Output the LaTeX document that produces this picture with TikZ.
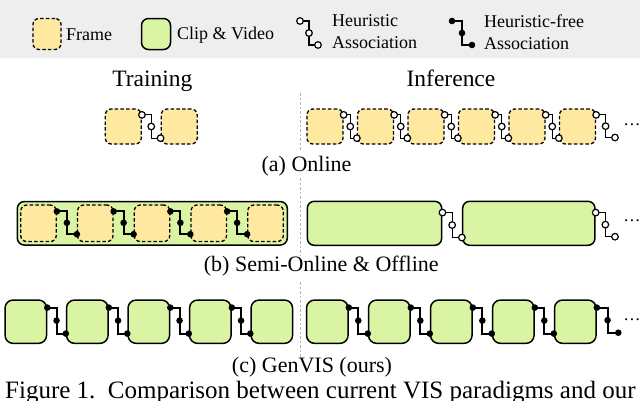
\documentclass[tikz,border=0pt]{standalone}
\usepackage{fontspec}
\setmainfont{Liberation Serif}
\usetikzlibrary{calc}

\definecolor{frameyellow}{HTML}{FFE8A0}
\definecolor{clipgreen}{HTML}{D9F5A3}
\definecolor{legendgray}{HTML}{EEEEEE}

% #1 link style (heur / free), #2 start point, #3 end point
\newcommand{\assoc}[3]{%
  \draw [#1] #2 coordinate (s) -| ($(s)!0.5!#3$) coordinate (m) |- #3 coordinate (e);
  \foreach \p in {s, m, e} \path [#1 dot] (\p) circle (3.3);
}

\begin{document}
\begin{tikzpicture}[x=1pt, y=-1pt,
    framebox/.style={draw, dash pattern=on 3.5pt off 2.2pt, line width=1.3pt, fill=frameyellow,
      rounded corners=6pt, inner sep=0pt, minimum width=36pt, minimum height=35pt},
    clipbox/.style={draw, line width=1.5pt, fill=clipgreen, rounded corners=7pt, inner sep=0pt,
      minimum width=41.5pt, minimum height=43.3pt},
    heur/.style={line width=1.1pt},
    heur dot/.style={draw, fill=white, line width=1.2pt},
    free/.style={line width=2pt},
    free dot/.style={fill=black},
    sep/.style={gray!60, line width=1pt, dash pattern=on 2.5pt off 2pt},
    legendtext/.style={anchor=west, inner sep=0pt, align=left, font=\fontsize{18}{22}\selectfont},
    head/.style={anchor=base, inner sep=0pt, font=\fontsize{23.5}{28}\selectfont},
    subcap/.style={anchor=base, inner sep=0pt, font=\fontsize{22}{26}\selectfont},
    more/.style={inner sep=0pt, font=\fontsize{17.5}{20}\selectfont}]

      \useasboundingbox (0,0) rectangle (640,400);

      % legend
      \fill [legendgray] (0,0) rectangle (640,58);
      \node [framebox, minimum width=28pt, minimum height=31pt] (lframe) at (47,34) {};
      \node [legendtext] (lframetext) at (66,35) {Frame};
      \node [clipbox, minimum width=29pt, minimum height=31pt] (lclip) at (156,34) {};
      \node [legendtext] (lcliptext) at (177,35) {Clip \& Video};
      \coordinate (lhs) at (300,21);
      \coordinate (lhe) at (318,45);
      \assoc{heur}{(lhs)}{(lhe)}
      \node [legendtext] (lheurtext) at (332,32) {Heuristic\\Association};
      \coordinate (lfs) at (452,21);
      \coordinate (lfe) at (472,45);
      \assoc{free}{(lfs)}{(lfe)}
      \node [legendtext] (lfreetext) at (484,32) {Heuristic-free\\Association};

      \node [head] (train) at (152.3,86) {Training};
      \node [head] (infer) at (451,86) {Inference};

      \draw [sep] (300,93) -- (300,150);
      \draw [sep] (300,178) -- (300,256);
      \draw [sep] (300,282) -- (300,357);

      % (a) online
      \node [framebox] (ta1) at (123.3,126.5) {};
      \node [framebox] (ta2) at (179.2,126.5) {};
      \assoc{heur}{([yshift=-6.5]ta1.north east)}{([yshift=6.5]ta2.south west)}

      \node [framebox] (ia1) at (325,126.5) {};
      \node [framebox] (ia2) at (375.5,126.5) {};
      \node [framebox] (ia3) at (426,126.5) {};
      \node [framebox] (ia4) at (476.5,126.5) {};
      \node [framebox] (ia5) at (527,126.5) {};
      \node [framebox] (ia6) at (577.5,126.5) {};
      \coordinate (iaend) at (615,137.5);
      \assoc{heur}{([yshift=-6.5]ia1.north east)}{([yshift=6.5]ia2.south west)}
      \assoc{heur}{([yshift=-6.5]ia2.north east)}{([yshift=6.5]ia3.south west)}
      \assoc{heur}{([yshift=-6.5]ia3.north east)}{([yshift=6.5]ia4.south west)}
      \assoc{heur}{([yshift=-6.5]ia4.north east)}{([yshift=6.5]ia5.south west)}
      \assoc{heur}{([yshift=-6.5]ia5.north east)}{([yshift=6.5]ia6.south west)}
      \assoc{heur}{([yshift=-6.5]ia6.north east)}{(iaend)}
      \node [more] (iamore) at (632,127) {···};

      \node [subcap] (capa) at (306.5,171) {(a) Online};

      % (b) semi-online & offline
      \node [clipbox, minimum width=270pt, minimum height=43.5pt] (tb) at (152.3,223.3) {};
      \node [framebox, minimum width=35.5pt, minimum height=36.5pt] (tb1) at (38.5,223.3) {};
      \node [framebox, minimum width=35.5pt, minimum height=36.5pt] (tb2) at (95.25,223.3) {};
      \node [framebox, minimum width=35.5pt, minimum height=36.5pt] (tb3) at (152,223.3) {};
      \node [framebox, minimum width=35.5pt, minimum height=36.5pt] (tb4) at (208.75,223.3) {};
      \node [framebox, minimum width=35.5pt, minimum height=36.5pt] (tb5) at (265.5,223.3) {};
      \assoc{free}{([yshift=-7]tb1.north east)}{([yshift=8]tb2.south west)}
      \assoc{free}{([yshift=-7]tb2.north east)}{([yshift=8]tb3.south west)}
      \assoc{free}{([yshift=-7]tb3.north east)}{([yshift=8]tb4.south west)}
      \assoc{free}{([yshift=-7]tb4.north east)}{([yshift=8]tb5.south west)}

      \node [clipbox, minimum width=134.4pt, minimum height=44pt] (ib1) at (374.5,223.3) {};
      \node [clipbox, minimum width=132.3pt, minimum height=44pt] (ib2) at (528.8,223.3) {};
      \coordinate (ibend) at (615,236.7);
      \assoc{heur}{([yshift=-12]ib1.north east)}{([yshift=8.5]ib2.south west)}
      \assoc{heur}{([yshift=-12]ib2.north east)}{(ibend)}
      \node [more] (ibmore) at (632,223) {···};

      \node [subcap] (capb) at (321.3,271.7) {(b) Semi-Online \& Offline};

      % (c) genvis
      \node [clipbox, rounded corners=8pt] (tc1) at (25.8,321.7) {};
      \node [clipbox, rounded corners=8pt] (tc2) at (87.3,321.7) {};
      \node [clipbox, rounded corners=8pt] (tc3) at (148.8,321.7) {};
      \node [clipbox, rounded corners=8pt] (tc4) at (210.3,321.7) {};
      \node [clipbox, rounded corners=8pt] (tc5) at (271.8,321.7) {};
      \assoc{free}{([yshift=-8.3]tc1.north east)}{([yshift=10.5]tc2.south west)}
      \assoc{free}{([yshift=-8.3]tc2.north east)}{([yshift=10.5]tc3.south west)}
      \assoc{free}{([yshift=-8.3]tc3.north east)}{([yshift=10.5]tc4.south west)}
      \assoc{free}{([yshift=-8.3]tc4.north east)}{([yshift=10.5]tc5.south west)}

      \node [clipbox, rounded corners=8pt] (ic1) at (327.3,321.7) {};
      \node [clipbox, rounded corners=8pt] (ic2) at (389.3,321.7) {};
      \node [clipbox, rounded corners=8pt] (ic3) at (451.3,321.7) {};
      \node [clipbox, rounded corners=8pt] (ic4) at (513.3,321.7) {};
      \node [clipbox, rounded corners=8pt] (ic5) at (575.3,321.7) {};
      \coordinate (icend) at (618.3,332.7);
      \assoc{free}{([yshift=-8.3]ic1.north east)}{([yshift=10.5]ic2.south west)}
      \assoc{free}{([yshift=-8.3]ic2.north east)}{([yshift=10.5]ic3.south west)}
      \assoc{free}{([yshift=-8.3]ic3.north east)}{([yshift=10.5]ic4.south west)}
      \assoc{free}{([yshift=-8.3]ic4.north east)}{([yshift=10.5]ic5.south west)}
      \assoc{free}{([yshift=-8.3]ic5.north east)}{(icend)}
      \node [more] (icmore) at (632,321.7) {···};

      \node [subcap] (capc) at (312,372) {(c) GenVIS (ours)};

      \node [anchor=base west, inner sep=0pt, font=\fontsize{25}{30}\selectfont] (figcap) at (5,398)
        {Figure 1.\ \ Comparison between current VIS paradigms and our};

    \end{tikzpicture}
\end{document}
